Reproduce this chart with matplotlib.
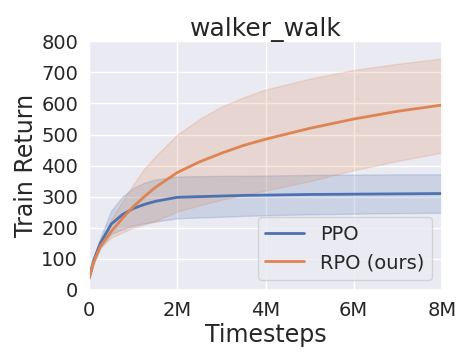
import numpy as np
import matplotlib
matplotlib.use("Agg")
import matplotlib.pyplot as plt
import seaborn as sns

# values (timesteps in millions)
steps = [0, 0.1, 0.25, 0.5, 0.75, 1.0, 1.25, 1.5, 2.0, 2.5, 3.0, 3.5, 4.0, 5.0, 6.0, 7.0, 8.0]

ppo_mean = [40, 95, 150, 212, 242, 262, 275, 285, 298, 300, 302, 304, 305, 307, 308, 309, 310]
ppo_low = [35, 85, 135, 180, 195, 207, 214, 220, 230, 233, 235, 238, 240, 243, 245, 247, 248]
ppo_high = [45, 105, 168, 255, 300, 328, 345, 355, 365, 366, 367, 367, 368, 370, 371, 372, 372]

rpo_mean = [40, 90, 140, 188, 230, 268, 300, 330, 378, 412, 440, 465, 485, 520, 550, 575, 595]
rpo_low = [35, 85, 135, 168, 185, 200, 210, 222, 252, 272, 290, 305, 320, 350, 385, 415, 442]
rpo_high = [45, 95, 150, 228, 285, 340, 390, 430, 500, 550, 590, 620, 645, 680, 708, 728, 745]

sns.set_theme(style="darkgrid")
plt.rcParams['font.family'] = ['DejaVu Sans']

fig, ax = plt.subplots(figsize=(4.7, 3.6), dpi=100)

x = np.array(steps) * 1e6
ax.plot(x, ppo_mean, color="#4c72b0", lw=2, label="PPO")
ax.fill_between(x, ppo_low, ppo_high, color="#4c72b0", alpha=0.2)
ax.plot(x, rpo_mean, color="#dd8452", lw=2, label="RPO (ours)")
ax.fill_between(x, rpo_low, rpo_high, color="#dd8452", alpha=0.2)

ax.set_xlim(0, 8e6)
ax.set_ylim(0, 800)
ax.set_xticks([0, 2e6, 4e6, 6e6, 8e6])
ax.set_xticklabels(["0", "2M", "4M", "6M", "8M"])
ax.set_yticks(range(0, 801, 100))
ax.tick_params(labelsize=14, pad=2)
ax.set_title("walker_walk", fontsize=18, pad=4)
ax.set_xlabel("Timesteps", fontsize=17, labelpad=2)
ax.set_ylabel("Train Return", fontsize=17, labelpad=2)
ax.legend(loc="lower right", fontsize=14)

plt.subplots_adjust(left=0.19, right=0.94, top=0.885, bottom=0.195)
plt.savefig("out.png", dpi=100)
